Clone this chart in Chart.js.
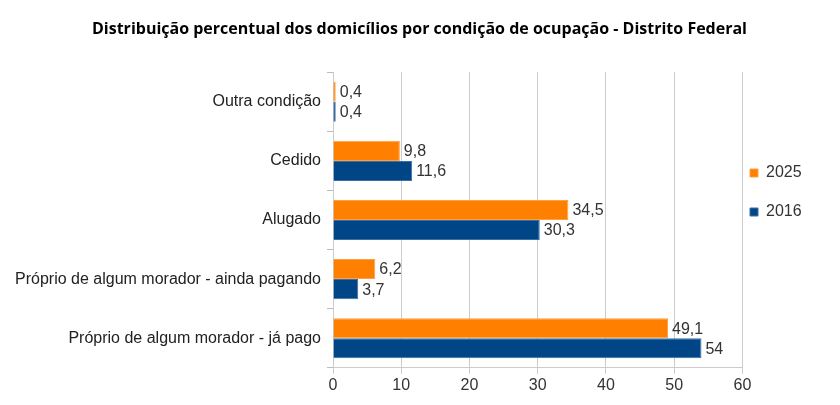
<!DOCTYPE html>
<html><head><meta charset="utf-8">
<script src="https://cdn.jsdelivr.net/npm/chart.js@4"></script>
<style>html,body{margin:0;padding:0;background:#fff}#wrap{width:840px;height:405px}</style>
</head><body><div id="wrap"><canvas id="c"></canvas></div>
<script>
const categories = ["Outra condição","Cedido","Alugado","Próprio de algum morador - ainda pagando","Próprio de algum morador - já pago"];
const values2025 = [0.4, 9.8, 34.5, 6.2, 49.1];
const values2016 = [0.4, 11.6, 30.3, 3.7, 54];
const xTicks = [0,10,20,30,40,50,60];

const labelPlugin = {
  id:'vals',
  afterDatasetsDraw(chart){
    const ctx = chart.ctx;
    ctx.save();
    ctx.font = '16px "Liberation Sans", Arial, sans-serif';
    ctx.fillStyle = '#333';
    ctx.textBaseline = 'middle';
    ctx.textAlign = 'left';
    chart.data.datasets.forEach((ds,di)=>{
      const meta = chart.getDatasetMeta(di);
      meta.data.forEach((el,i)=>{
        const t = String(ds.data[i]).replace('.',',');
        ctx.fillText(t, el.x + 4, el.y + 1);
      });
    });
    ctx.restore();
  }
};

const chart = new Chart(document.getElementById('c'), {
  type:'bar',
  data:{
    labels: categories,
    datasets:[
      {label:'2025', data: values2025, backgroundColor:'#ff8000', borderColor:'#ffa040', borderWidth:1, categoryPercentage:0.68, barPercentage:1.0},
      {label:'2016', data: values2016, backgroundColor:'#004586', borderColor:'#3a6fa6', borderWidth:1, categoryPercentage:0.68, barPercentage:1.0}
    ]
  },
  options:{
    indexAxis:'y',
    responsive:true,
    maintainAspectRatio:false,
    animation:false,
    layout:{padding:{left:12,right:13,top:0,bottom:8}},
    plugins:{
      title:{display:true, text:'Distribuição percentual dos domicílios por condição de ocupação - Distrito Federal',
        font:{family:'"Open Sans", sans-serif', size:16, weight:'bold'}, color:'#000', padding:{top:20,bottom:33}},
      legend:{position:'right',
        labels:{boxWidth:8, boxHeight:8, padding:23, color:'#333', font:{family:'"Liberation Sans", Arial, sans-serif', size:16}}},
      tooltip:{enabled:false}
    },
    scales:{
      x:{min:0,max:60,
        afterBuildTicks(ax){ ax.ticks = xTicks.map(v=>({value:v})); },
        grid:{color:'#cccccc', tickLength:6, drawTicks:true},
        border:{color:'#cccccc'},
        ticks:{color:'#333', padding:2, font:{family:'"Liberation Sans", Arial, sans-serif', size:16}}
      },
      y:{
        afterFit(ax){ ax.width = 321; },
        grid:{drawOnChartArea:false, color:'#bbbbbb', tickLength:6, offset:true},
        border:{color:'#cccccc'},
        ticks:{color:'#222', padding:6, font:{family:'"Liberation Sans", Arial, sans-serif', size:16}}
      }
    }
  },
  plugins:[labelPlugin]
});
const lg = chart.legend;
const origDraw = lg.draw.bind(lg);
const shiftX = 750 - (lg.left + lg.options.labels.padding);
lg.draw = function(){
  const ctx = chart.ctx;
  ctx.save();
  ctx.translate(shiftX, -6);
  origDraw();
  ctx.restore();
};
chart.draw();
</script></body></html>
